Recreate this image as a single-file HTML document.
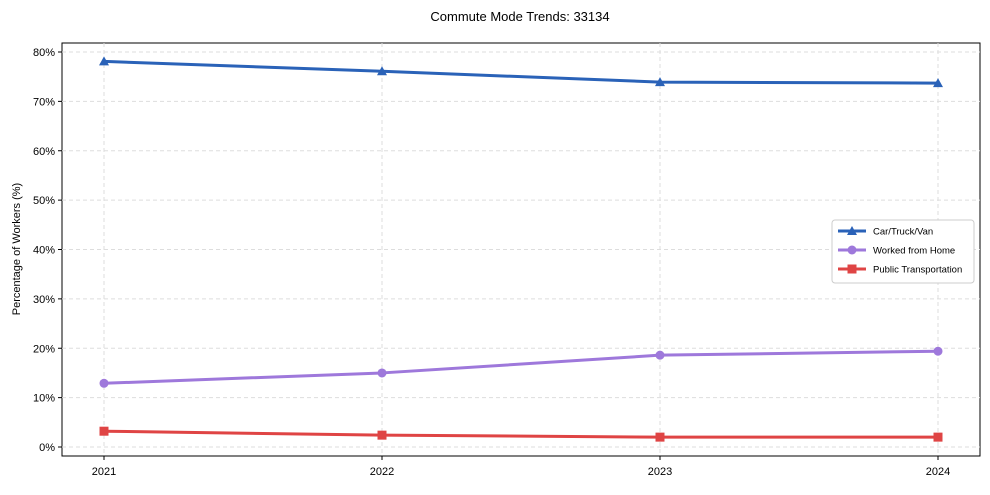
<!DOCTYPE html>
<html><head><meta charset="utf-8"><style>
body{margin:0;background:#fff;font-family:"Liberation Sans",Arial,sans-serif}
svg text{font-family:"Liberation Sans",Arial,sans-serif}
</style></head><body>
<svg id="chart" width="990" height="490" viewBox="0 0 990 490">
<text x="520" y="21" font-size="13" text-anchor="middle">Commute Mode Trends: 33134</text>
<rect x="62" y="43" width="918" height="413" fill="none" stroke="#000" stroke-width="1"/>
<g id="grid"></g><g id="axes"></g><g id="series"></g>
<text transform="translate(20,249) rotate(-90)" font-size="11" text-anchor="middle">Percentage of Workers (%)</text>
<g>
<rect x="832" y="220" width="142" height="63" rx="3" fill="#fff" stroke="#ccc"/>
<g id="legend"></g>
</g>
</svg>
<script>
const years=['2021','2022','2023','2024'];
const car=[78.1,76.1,73.9,73.7];
const wfh=[12.9,15.0,18.6,19.4];
const pt=[3.2,2.4,2.0,2.0];
const yTicks=[0,10,20,30,40,50,60,70,80];
const seriesNames=['Car/Truck/Van','Worked from Home','Public Transportation'];
const NS='http://www.w3.org/2000/svg';
const xs=i=>104+i*(938-104)/(years.length-1);
const ys=v=>447-v*(447-52)/80;
function mk(tag,attrs,parent){const e=document.createElementNS(NS,tag);for(const k in attrs)e.setAttribute(k,attrs[k]);parent.appendChild(e);return e;}
const grid=document.getElementById('grid'),axes=document.getElementById('axes'),ser=document.getElementById('series'),leg=document.getElementById('legend');
yTicks.forEach(t=>{const y=ys(t);
 let g=mk('line',{x1:62,x2:980,y1:y,y2:y,stroke:'#ddd','stroke-dasharray':'4,3'},grid);
 
 
 let tk=mk('line',{x1:58,x2:62,y1:y,y2:y,stroke:'#000'},axes);
 
 
 let tx=mk('text',{x:55,y:y+4,'font-size':'11','text-anchor':'end'},axes);tx.textContent=t+'%';
 
 
});
years.forEach((yr,i)=>{const x=xs(i);
 let g=mk('line',{x1:x,x2:x,y1:43,y2:456,stroke:'#ddd','stroke-dasharray':'4,3'},grid);
 
 
 let tk=mk('line',{x1:x,x2:x,y1:456,y2:460,stroke:'#000'},axes);
 
 
 let tx=mk('text',{x:x,y:475,'font-size':'11','text-anchor':'middle'},axes);tx.textContent=yr;
 
 
});
function marker(type,x,y,color,p,name){let m;
 if(type==='tri')m=mk('polygon',{points:`${x},${y-5} ${x-5},${y+4} ${x+5},${y+4}`,fill:color},p);
 else if(type==='circ')m=mk('circle',{cx:x,cy:y,r:4.5,fill:color},p);
 else m=mk('rect',{x:x-4.5,y:y-4.5,width:9,height:9,fill:color},p);
 
 
}
const defs=[[car,'#2a62b8','tri','car'],[wfh,'#9e78db','circ','wfh'],[pt,'#df4444','sq','pt']];
defs.forEach(([d,c,t,n],si)=>{
 let pl=mk('polyline',{points:d.map((v,i)=>xs(i)+','+ys(v)).join(' '),fill:'none',stroke:c,'stroke-width':3},ser);
 
 
 d.forEach((v,i)=>marker(t,xs(i),ys(v),c,ser,n+'-point'));
 const ly=231+si*19;
 let ll=mk('line',{x1:838,x2:866,y1:ly,y2:ly,stroke:c,'stroke-width':3},leg);
 
 
 marker(t,852,ly,c,leg,'legend-marker');
 let lt=mk('text',{x:873,y:ly+3.5,'font-size':'9.5'},leg);lt.textContent=seriesNames[si];
 
 
});
</script>
</body></html>
